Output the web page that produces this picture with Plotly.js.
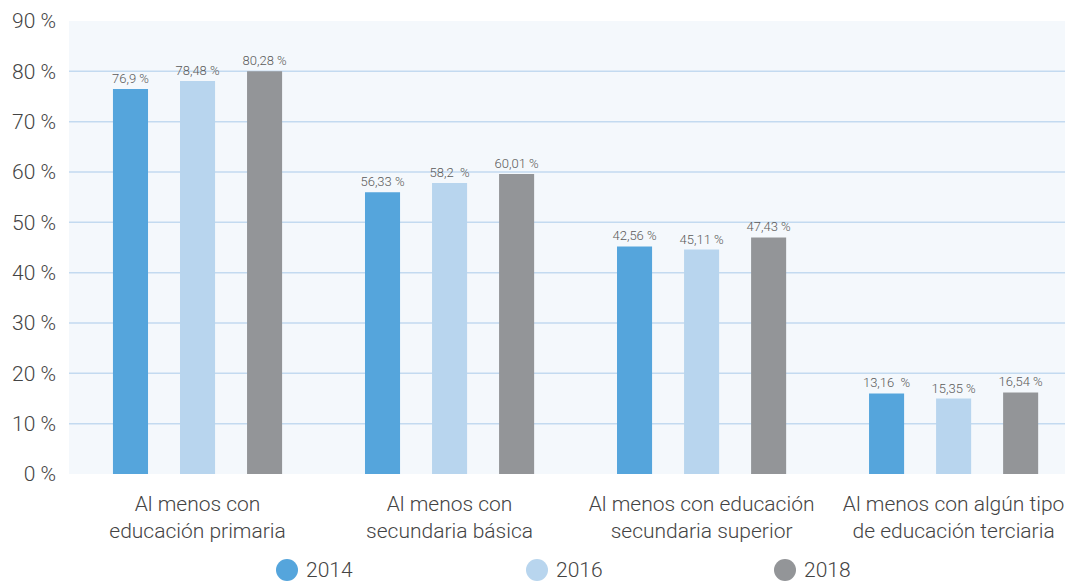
<!DOCTYPE html>
<html>
<head>
<meta charset="utf-8">
<script src="https://cdn.plot.ly/plotly-3.0.1.min.js"></script>
<style>html,body{margin:0;padding:0;background:#fff;}#chart{width:1065px;height:583px;}</style>
</head>
<body>
<div id="chart"></div>
<script>
const categories = [
  "Al menos con<br>educación primaria",
  "Al menos con<br>secundaria básica",
  "Al menos con educación<br>secundaria superior",
  "Al menos con algún tipo<br>de educación terciaria"
];
const seriesNames = ["2014", "2016", "2018"];
const values2014 = [76.5, 56.0, 45.2, 16.0];
const values2016 = [78.1, 57.8, 44.6, 15.0];
const values2018 = [80.0, 59.6, 47.0, 16.2];
const labels2014 = ["76,9 %", "56,33 %", "42,56 %", "13,16\u00a0 %"];
const labels2016 = ["78,48 %", "58,2\u00a0 %", "45,11 %", "15,35 %"];
const labels2018 = ["80,28 %", "60,01 %", "47,43 %", "16,54 %"];
const yTickVals = [0, 10, 20, 30, 40, 50, 60, 70, 80, 90];
const gridVals = [10, 20, 30, 40, 50, 60, 70, 80];

const colors = ["#55a5dc", "#b8d5ee", "#939598"];
const FONT = "Roboto, 'DejaVu Sans', sans-serif";
const allValues = [values2014, values2016, values2018];
const allLabels = [labels2014, labels2016, labels2018];

const traces = seriesNames.map((name, i) => ({
  type: "bar",
  name: name,
  x: categories,
  y: allValues[i],
  text: allLabels[i],
  textposition: "outside",
  constraintext: "none",
  textfont: {family: FONT, size: 13, color: "#5a5a5a", weight: 300},
  cliponaxis: false,
  marker: {color: colors[i]},
  showlegend: false,
  hoverinfo: "skip"
}));

// plot geometry for legend placement
const W = 1065, H = 583, mL = 69, mR = 0, mT = 21, mB = 109;
const pw = W - mL - mR, ph = H - mT - mB;
const legendPx = [287, 537, 785];
const legendY = 570;
const shapes = [];
const annotations = [];
seriesNames.forEach((name, i) => {
  const xp = (legendPx[i] - mL) / pw;
  const yp = (H - mB - legendY) / ph;
  shapes.push({type: "circle", xref: "paper", yref: "paper", xsizemode: "pixel", ysizemode: "pixel",
    xanchor: xp, yanchor: yp, x0: -11, x1: 11, y0: -11, y1: 11,
    fillcolor: colors[i], line: {width: 0}});
  annotations.push({xref: "paper", yref: "paper", x: (legendPx[i] + 17 - mL) / pw, y: yp,
    xanchor: "left", yanchor: "middle", text: name, showarrow: false,
    font: {family: FONT, size: 21, color: "#444444", weight: 300}});
});
gridVals.forEach(v => {
  shapes.push({type: "line", xref: "paper", yref: "y", x0: 0, x1: 1, y0: v, y1: v, layer: "below",
    line: {color: "#c3daf0", width: 1.5}});
});

const layout = {
  width: W, height: H,
  margin: {l: mL, r: mR, t: mT, b: mB, pad: 0},
  paper_bgcolor: "#ffffff",
  plot_bgcolor: "#f4f8fc",
  font: {family: FONT, color: "#444444"},
  barmode: "group",
  bargap: 0.202,
  bargroupgap: 0.477,
  showlegend: false,
  xaxis: {
    type: "category",
    range: [-0.51, 3.442],
    showgrid: false, zeroline: false, showline: false, ticks: "",
    tickfont: {family: FONT, size: 21, color: "#444444", weight: 300},
    ticklabelstandoff: 15
  },
  yaxis: {
    range: [0, 90],
    tickmode: "array",
    tickvals: yTickVals,
    ticktext: yTickVals.map(v => v + " %"),
    showgrid: false, zeroline: false, showline: false, ticks: "",
    tickfont: {family: FONT, size: 21, color: "#444444", weight: 300},
    ticklabelstandoff: 12
  },
  shapes: shapes,
  annotations: annotations
};

Plotly.newPlot("chart", traces, layout, {displayModeBar: false, staticPlot: true});
</script>
</body>
</html>
